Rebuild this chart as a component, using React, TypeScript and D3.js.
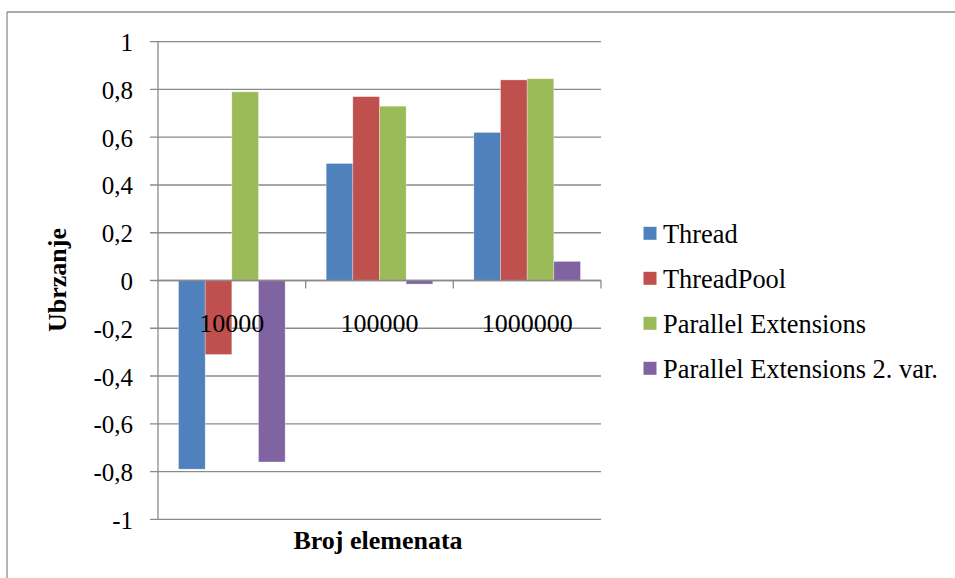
import React from "react";
import * as d3 from "d3";

// Number of elements (categories on the x axis)
const categories = ["10000", "100000", "1000000"];

// Series names and speed-up values per category
const seriesNames = ["Thread", "ThreadPool", "Parallel Extensions", "Parallel Extensions 2. var."];
const threadValues = [-0.79, 0.49, 0.62];
const threadPoolValues = [-0.31, 0.77, 0.84];
const parallelExtValues = [0.79, 0.73, 0.845];
const parallelExt2Values = [-0.76, -0.015, 0.08];
const seriesColors = ["#4F81BD", "#C0504D", "#9BBB59", "#8064A2"];

// Y axis ticks
const yTicks = [1, 0.8, 0.6, 0.4, 0.2, 0, -0.2, -0.4, -0.6, -0.8, -1];

const yTitle = "Ubrzanje";
const xTitle = "Broj elemenata";

const W = 955;
const H = 578;
const plotLeft = 158;
const plotRight = 601;
const plotTop = 41.7;
const plotBottom = 519.3;
const font = '"Liberation Serif", "Times New Roman", serif';
const gridColor = "#8a8a8a";

const seriesValues = [threadValues, threadPoolValues, parallelExtValues, parallelExt2Values];

const fmt = (v: number) => (v === 0 ? "0" : String(v).replace(".", ","));

export default function App() {
  const y = d3.scaleLinear().domain([-1, 1]).range([plotBottom, plotTop]);
  const x0 = d3.scaleBand<string>().domain(categories).range([plotLeft, plotRight]).paddingInner(0).paddingOuter(0);
  const x1 = d3
    .scaleBand<string>()
    .domain(seriesNames)
    .range([0, x0.bandwidth()])
    .paddingInner(0)
    .paddingOuter(0.77);

  const zeroY = y(0);

  return (
    <svg
      width={W}
      height={H}
      fontFamily={font}
      style={{ position: "absolute", left: 0, top: 0, background: "#fff" }}
    >
      {/* chart frame */}
      <line x1={7} y1={12} x2={W} y2={12} stroke="#8c8c8c" strokeWidth={1.3} />
      <line x1={7} y1={12} x2={7} y2={H} stroke="#8c8c8c" strokeWidth={1.3} />

      {/* horizontal gridlines, y ticks and labels */}
      {yTicks.map((t) => (
        <g key={t}>
          <line x1={plotLeft - 8} x2={plotRight} y1={y(t)} y2={y(t)} stroke={gridColor} strokeWidth={1.3} />
          <text x={133} y={y(t)} dy="0.38em" textAnchor="end" fontSize={25} fill="#000">
            {fmt(t)}
          </text>
        </g>
      ))}

      {/* y axis line */}
      <line x1={plotLeft} x2={plotLeft} y1={plotTop} y2={plotBottom} stroke={gridColor} strokeWidth={1.3} />

      {/* bars */}
      {seriesNames.map((name, si) =>
        categories.map((cat, ci) => {
          const v = seriesValues[si][ci];
          const bx = (x0(cat) as number) + (x1(name) as number);
          const top = Math.min(y(v), zeroY);
          const h = Math.abs(y(v) - zeroY);
          return (
            <rect
              key={name + cat}
              x={bx}
              y={top}
              width={x1.bandwidth()}
              height={h}
              fill={seriesColors[si]}
              stroke="#ffffff"
              strokeOpacity={0.5}
              strokeWidth={0.6}
            />
          );
        })
      )}

      {/* category axis along zero with downward ticks */}
      <line x1={plotLeft} x2={plotRight} y1={zeroY} y2={zeroY} stroke={gridColor} strokeWidth={1.3} />
      {categories.map((cat) => {
        const xr = (x0(cat) as number) + x0.bandwidth();
        return <line key={"t" + cat} x1={xr} x2={xr} y1={zeroY} y2={zeroY + 8} stroke={gridColor} strokeWidth={1.3} />;
      })}
      {categories.map((cat) => (
        <text
          key={"l" + cat}
          x={(x0(cat) as number) + x0.bandwidth() / 2}
          y={332}
          textAnchor="middle"
          fontSize={26}
          fill="#000"
        >
          {cat}
        </text>
      ))}

      {/* axis titles */}
      <text x={378} y={549} textAnchor="middle" fontSize={26} fontWeight="bold" fill="#000">
        {xTitle}
      </text>
      <text transform={`translate(66, 280) rotate(-90)`} textAnchor="middle" fontSize={26} fontWeight="bold" fill="#000">
        {yTitle}
      </text>

      {/* legend */}
      {seriesNames.map((name, i) => {
        const cy = 233.3 + i * 45;
        return (
          <g key={"lg" + name}>
            <rect x={643.5} y={cy - 6.5} width={13} height={13} fill={seriesColors[i]} />
            <text x={663} y={cy} dy="0.36em" fontSize={26.4} fill="#000">
              {name}
            </text>
          </g>
        );
      })}
    </svg>
  );
}
